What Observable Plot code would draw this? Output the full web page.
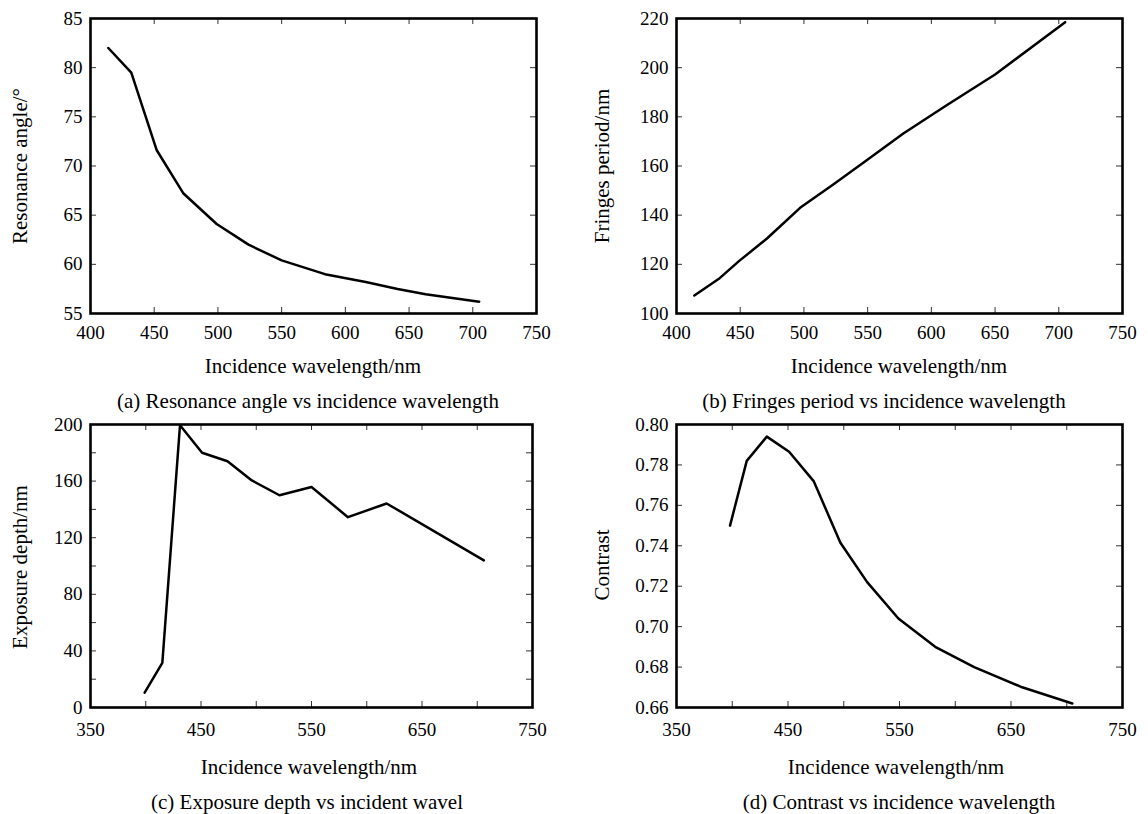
<!DOCTYPE html>
<html>
<head>
<meta charset="utf-8">
<script src="https://cdn.jsdelivr.net/npm/d3@7"></script>
<script src="https://cdn.jsdelivr.net/npm/@observablehq/plot@0.6"></script>
<style>
  html, body { margin: 0; padding: 0; background: #fff; }
  #root { position: relative; width: 1148px; height: 814px; overflow: hidden; background: #fff;
          font-family: "Liberation Serif", "Times New Roman", serif; color: #000; }
  .panel { position: absolute; }
  .panel svg, .panel svg text { font-family: "Liberation Serif", "Times New Roman", serif !important; }
  .panel svg { font-size: 19px !important; }
  .txt { position: absolute; white-space: nowrap; line-height: 1; font-size: 21px;
         transform: translate(-50%, -50%); }
  .ylab { transform: translate(-50%, -50%) rotate(-90deg); }
</style>
</head>
<body>
<div id="root"></div>
<script>
// ---------- data ----------
// (a) Resonance angle vs incidence wavelength
const wavelengthA = [414, 432, 452, 473, 499, 524, 550, 584, 616, 641, 663, 705];
const resonanceAngle = [82.0, 79.5, 71.6, 67.2, 64.1, 62.0, 60.4, 59.0, 58.2, 57.5, 56.95, 56.2];
// (b) Fringes period vs incidence wavelength
const wavelengthB = [414, 433, 449, 471, 497, 523, 549, 578, 612, 650, 705];
const fringesPeriod = [107.3, 114.0, 121.3, 130.5, 143.0, 152.5, 162.2, 173.2, 184.7, 197.2, 218.5];
// (c) Exposure depth vs incident wavelength
const wavelengthC = [399, 415, 431, 451, 474, 496, 521, 550, 583, 618, 706];
const exposureDepth = [10.5, 31.5, 199.5, 180, 174, 160.5, 150, 155.8, 134.5, 144.2, 104];
// (d) Contrast vs incidence wavelength
const wavelengthD = [398, 413, 431, 451, 473, 497, 521, 549, 582, 617, 660, 705];
const contrast = [0.750, 0.782, 0.794, 0.7865, 0.772, 0.7415, 0.722, 0.704, 0.690, 0.680, 0.670, 0.662];

// ticks
const ticksX_AB = [400, 450, 500, 550, 600, 650, 700, 750];
const ticksY_A = [55, 60, 65, 70, 75, 80, 85];
const ticksY_B = [100, 120, 140, 160, 180, 200, 220];
const labelsX_CD = [350, 450, 550, 650, 750];
const ticksX_CD = [350, 400, 450, 500, 550, 600, 650, 700, 750];
const labelsY_C = [0, 40, 80, 120, 160, 200];
const ticksY_C = [0, 20, 40, 60, 80, 100, 120, 140, 160, 180, 200];
const ticksY_D = [0.66, 0.68, 0.70, 0.72, 0.74, 0.76, 0.78, 0.80];

// text
const xLabel = "Incidence wavelength/nm";
const yLabels = ["Resonance angle/°", "Fringes period/nm", "Exposure depth/nm", "Contrast"];
const captions = [
  "(a) Resonance angle vs incidence wavelength",
  "(b) Fringes period vs incidence wavelength",
  "(c) Exposure depth vs incident wavel",
  "(d) Contrast vs incidence wavelength"
];

// ---------- drawing ----------
const root = document.getElementById("root");
const SERIF = "Liberation Serif, Times New Roman, serif";

function panel({left, top, width, height, mL, mR, mT, mB, xDomain, yDomain, pad,
                xs, ys, xTicks, xLabels, yTicks, yLabels, yFormat}) {
  const innerW = width - mL - mR;
  const innerH = height - mT - mB;
  const data = xs.map((x, i) => ({x, y: ys[i]}));
  const tl = 6;
  const chart = Plot.plot({
    width, height,
    marginLeft: mL, marginRight: mR, marginTop: mT, marginBottom: mB,
    style: {fontFamily: SERIF, fontSize: "19px",
            background: "transparent", color: "#000", overflow: "visible"},
    x: {domain: xDomain},
    y: {domain: yDomain},
    marks: [
      Plot.tickX(xTicks, {x: d => d, insetTop: innerH - tl, stroke: "#333", strokeWidth: 1}),
      Plot.tickX(xTicks, {x: d => d, insetBottom: innerH - tl, stroke: "#333", strokeWidth: 1}),
      Plot.tickY(yTicks, {y: d => d, insetRight: innerW - tl, stroke: "#333", strokeWidth: 1}),
      Plot.tickY(yTicks, {y: d => d, insetLeft: innerW - tl, stroke: "#333", strokeWidth: 1}),
      Plot.axisX({ticks: xLabels, anchor: "bottom", tickSize: 0, tickPadding: pad, label: null,
                  fontFamily: SERIF, fontSize: 19}),
      Plot.axisY({ticks: yLabels, anchor: "left", tickSize: 0, tickPadding: 8, label: null,
                  tickFormat: yFormat, fontFamily: SERIF, fontSize: 19}),
      Plot.line(data, {x: "x", y: "y", stroke: "#000", strokeWidth: 2.5, strokeLinejoin: "round"}),
      Plot.frame({stroke: "#000", strokeWidth: 2.6})
    ]
  });
  const div = document.createElement("div");
  div.className = "panel";
  div.style.left = left + "px";
  div.style.top = top + "px";
  div.appendChild(chart);
  root.appendChild(div);
}

function text(str, cx, cy, cls) {
  const d = document.createElement("div");
  d.className = "txt" + (cls ? " " + cls : "");
  d.style.left = cx + "px";
  d.style.top = cy + "px";
  d.textContent = str;
  root.appendChild(d);
}

// (a)
panel({left: 0, top: 0, width: 574, height: 345, mL: 90, mR: 38, mT: 18, mB: 32, pad: 12,
       xDomain: [400, 750], yDomain: [55, 85], xs: wavelengthA, ys: resonanceAngle,
       xTicks: ticksX_AB, xLabels: ticksX_AB, yTicks: ticksY_A, yLabels: ticksY_A});
// (b)
panel({left: 574, top: 0, width: 574, height: 345, mL: 102, mR: 26, mT: 18, mB: 32, pad: 12,
       xDomain: [400, 750], yDomain: [100, 220], xs: wavelengthB, ys: fringesPeriod,
       xTicks: ticksX_AB, xLabels: ticksX_AB, yTicks: ticksY_B, yLabels: ticksY_B});
// (c)
panel({left: 0, top: 400, width: 574, height: 340, mL: 90, mR: 42, mT: 24, mB: 33, pad: 15,
       xDomain: [350, 750], yDomain: [0, 200], xs: wavelengthC, ys: exposureDepth,
       xTicks: ticksX_CD, xLabels: labelsX_CD, yTicks: ticksY_C, yLabels: labelsY_C});
// (d)
panel({left: 574, top: 400, width: 574, height: 340, mL: 102, mR: 26, mT: 24, mB: 33, pad: 15,
       xDomain: [350, 750], yDomain: [0.66, 0.80], xs: wavelengthD, ys: contrast,
       xTicks: ticksX_CD, xLabels: labelsX_CD, yTicks: ticksY_D, yLabels: ticksY_D,
       yFormat: d3.format(".2f")});

// axis labels
text(xLabel, 313, 366);
text(xLabel, 899, 366);
text(xLabel, 309, 767);
text(xLabel, 896, 767);
text(yLabels[0], 20, 166, "ylab");
text(yLabels[1], 602, 166, "ylab");
text(yLabels[2], 20, 567, "ylab");
text(yLabels[3], 602, 565, "ylab");
// captions
text(captions[0], 308, 401);
text(captions[1], 884, 401);
text(captions[2], 307, 802);
text(captions[3], 899, 802);
</script>
</body>
</html>
